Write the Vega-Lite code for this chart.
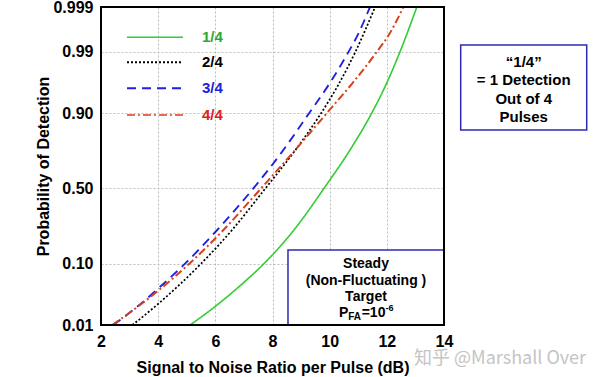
{
  "$schema": "https://vega.github.io/schema/vega-lite/v6.json",
  "width": 343,
  "height": 318,
  "autosize": {"type": "none"},
  "padding": {"left": 101, "top": 7, "right": 156, "bottom": 52},
  "background": "white",
  "config": {
    "view": {"stroke": null},
    "axis": {
      "labelFont": "Liberation Sans",
      "labelFontSize": 16,
      "labelFontWeight": "bold",
      "labelColor": "#000000",
      "titleFont": "Liberation Sans",
      "titleFontSize": 16,
      "titleFontWeight": "bold",
      "titleColor": "#000000",
      "ticks": false,
      "tickSize": 0,
      "domain": false,
      "labelOverlap": false,
      "labelBound": false
    }
  },
  "datasets": {
    "curves": [
      {"series": "1/4", "snr": 5.12, "pd": 0.01},
      {"series": "1/4", "snr": 6.0, "pd": 0.0223},
      {"series": "1/4", "snr": 7.0, "pd": 0.0548},
      {"series": "1/4", "snr": 7.7, "pd": 0.10},
      {"series": "1/4", "snr": 8.8, "pd": 0.249},
      {"series": "1/4", "snr": 9.8, "pd": 0.50},
      {"series": "1/4", "snr": 10.77, "pd": 0.758},
      {"series": "1/4", "snr": 11.47, "pd": 0.90},
      {"series": "1/4", "snr": 12.0, "pd": 0.964},
      {"series": "1/4", "snr": 12.46, "pd": 0.99},
      {"series": "1/4", "snr": 13.05, "pd": 0.999},
      {"series": "2/4", "snr": 3.1, "pd": 0.01},
      {"series": "2/4", "snr": 4.06, "pd": 0.0261},
      {"series": "2/4", "snr": 5.5, "pd": 0.10},
      {"series": "2/4", "snr": 6.6, "pd": 0.242},
      {"series": "2/4", "snr": 7.75, "pd": 0.50},
      {"series": "2/4", "snr": 8.73, "pd": 0.728},
      {"series": "2/4", "snr": 9.7, "pd": 0.90},
      {"series": "2/4", "snr": 10.3, "pd": 0.961},
      {"series": "2/4", "snr": 10.9, "pd": 0.99},
      {"series": "2/4", "snr": 11.59, "pd": 0.999},
      {"series": "3/4", "snr": 2.43, "pd": 0.01},
      {"series": "3/4", "snr": 3.2, "pd": 0.0206},
      {"series": "3/4", "snr": 4.06, "pd": 0.0465},
      {"series": "3/4", "snr": 4.94, "pd": 0.10},
      {"series": "3/4", "snr": 6.0, "pd": 0.229},
      {"series": "3/4", "snr": 7.33, "pd": 0.50},
      {"series": "3/4", "snr": 8.3, "pd": 0.726},
      {"series": "3/4", "snr": 9.28, "pd": 0.90},
      {"series": "3/4", "snr": 10.0, "pd": 0.9633},
      {"series": "3/4", "snr": 10.66, "pd": 0.99},
      {"series": "3/4", "snr": 11.0, "pd": 0.99576},
      {"series": "3/4", "snr": 11.41, "pd": 0.999},
      {"series": "4/4", "snr": 2.4, "pd": 0.01},
      {"series": "4/4", "snr": 3.2, "pd": 0.0204},
      {"series": "4/4", "snr": 4.06, "pd": 0.0428},
      {"series": "4/4", "snr": 5.09, "pd": 0.10},
      {"series": "4/4", "snr": 6.3, "pd": 0.242},
      {"series": "4/4", "snr": 7.6, "pd": 0.50},
      {"series": "4/4", "snr": 8.73, "pd": 0.732},
      {"series": "4/4", "snr": 9.9, "pd": 0.90},
      {"series": "4/4", "snr": 10.8, "pd": 0.9637},
      {"series": "4/4", "snr": 11.65, "pd": 0.99},
      {"series": "4/4", "snr": 12.1, "pd": 0.99586},
      {"series": "4/4", "snr": 12.58, "pd": 0.999}
    ]
  },
  "layer": [
    {
      "data": {"name": "curves"},
      "transform": [{"calculate": "quantileNormal(datum.pd)", "as": "z"}],
      "mark": {"type": "line", "interpolate": "monotone", "clip": true},
      "encoding": {
        "x": {
          "field": "snr", "type": "quantitative",
          "scale": {"domain": [2, 14], "nice": false, "zero": false},
          "axis": {
            "values": [2, 4, 6, 8, 10, 12, 14],
            "title": "Signal to Noise Ratio per Pulse (dB)",
            "grid": true, "gridColor": "#bdbdbd", "gridDash": [2, 2], "gridWidth": 1,
            "labelPadding": 8, "titlePadding": 10, "labelFlush": false
          }
        },
        "y": {
          "field": "z", "type": "quantitative",
          "scale": {"domain": [-2.326348, 3.090232], "nice": false, "zero": false},
          "axis": {
            "values": [-2.326348, -1.281552, 0, 1.281552, 2.326348, 3.090232],
            "labelExpr": "datum.value > 3 ? '0.999' : format(cumulativeNormal(datum.value), '.2f')",
            "title": "Probability of Detection",
            "grid": true,
            "gridColor": {"condition": {"test": "abs(datum.value - 1.281552) < 0.01", "value": "#f2a6a6"}, "value": "#bdbdbd"},
            "gridDash": [2, 2], "gridWidth": 1,
            "labelPadding": 8, "titlePadding": 1
          }
        },
        "color": {
          "field": "series", "type": "nominal",
          "scale": {"domain": ["1/4", "2/4", "3/4", "4/4"], "range": ["#33cc33", "#000000", "#2020e0", "#d8401c"]},
          "legend": null
        },
        "strokeDash": {
          "field": "series", "type": "nominal",
          "scale": {"domain": ["1/4", "2/4", "3/4", "4/4"], "range": [[1, 0], [2, 2], [9, 6], [8, 3, 2, 3]]},
          "legend": null
        },
        "strokeWidth": {
          "field": "series", "type": "nominal",
          "scale": {"domain": ["1/4", "2/4", "3/4", "4/4"], "range": [1.6, 2, 2, 1.6]},
          "legend": null
        }
      }
    },
    {
      "data": {"values": [{}]},
      "mark": {"type": "rect", "fill": "white", "stroke": "#2b2bb0", "strokeWidth": 1.5, "clip": false},
      "encoding": {
        "x": {"datum": 8.542, "type": "quantitative", "scale": {"domain": [2, 14], "nice": false, "zero": false}},
        "x2": {"datum": 14},
        "y": {"datum": -1.049, "type": "quantitative", "scale": {"domain": [-2.326348, 3.090232], "nice": false, "zero": false}},
        "y2": {"datum": -2.326348}
      }
    },
    {
      "data": {"values": [{}]},
      "mark": {"type": "text", "font": "Liberation Sans", "fontSize": 14, "fontWeight": "bold", "align": "center", "baseline": "middle", "lineHeight": 16.7, "color": "#000000", "clip": false},
      "encoding": {
        "x": {"datum": 11.271, "type": "quantitative", "scale": {"domain": [2, 14], "nice": false, "zero": false}},
        "y": {"datum": -1.287, "type": "quantitative", "scale": {"domain": [-2.326348, 3.090232], "nice": false, "zero": false}},
        "text": {"value": ["Steady", "(Non-Fluctuating )", "Target"]}
      }
    },
    {
      "data": {"values": [{}]},
      "mark": {"type": "text", "font": "Liberation Sans", "fontSize": 14, "fontWeight": "bold", "align": "left", "baseline": "middle", "dx": -27, "color": "#000000", "clip": false},
      "encoding": {
        "x": {"datum": 11.271, "type": "quantitative", "scale": {"domain": [2, 14], "nice": false, "zero": false}},
        "y": {"datum": -2.13, "type": "quantitative", "scale": {"domain": [-2.326348, 3.090232], "nice": false, "zero": false}},
        "text": {"value": "P"}
      }
    },
    {
      "data": {"values": [{}]},
      "mark": {"type": "text", "font": "Liberation Sans", "fontSize": 10, "fontWeight": "bold", "align": "left", "baseline": "middle", "dx": -17.7, "dy": 4, "color": "#000000", "clip": false},
      "encoding": {
        "x": {"datum": 11.271, "type": "quantitative", "scale": {"domain": [2, 14], "nice": false, "zero": false}},
        "y": {"datum": -2.13, "type": "quantitative", "scale": {"domain": [-2.326348, 3.090232], "nice": false, "zero": false}},
        "text": {"value": "FA"}
      }
    },
    {
      "data": {"values": [{}]},
      "mark": {"type": "text", "font": "Liberation Sans", "fontSize": 14, "fontWeight": "bold", "align": "left", "baseline": "middle", "dx": -4.3, "color": "#000000", "clip": false},
      "encoding": {
        "x": {"datum": 11.271, "type": "quantitative", "scale": {"domain": [2, 14], "nice": false, "zero": false}},
        "y": {"datum": -2.13, "type": "quantitative", "scale": {"domain": [-2.326348, 3.090232], "nice": false, "zero": false}},
        "text": {"value": "=10"}
      }
    },
    {
      "data": {"values": [{}]},
      "mark": {"type": "text", "font": "Liberation Sans", "fontSize": 9, "fontWeight": "bold", "align": "left", "baseline": "middle", "dx": 19.4, "dy": -5, "color": "#000000", "clip": false},
      "encoding": {
        "x": {"datum": 11.271, "type": "quantitative", "scale": {"domain": [2, 14], "nice": false, "zero": false}},
        "y": {"datum": -2.13, "type": "quantitative", "scale": {"domain": [-2.326348, 3.090232], "nice": false, "zero": false}},
        "text": {"value": "-6"}
      }
    },
    {
      "data": {"values": [{}]},
      "mark": {"type": "rect", "fill": "white", "stroke": "#2b2bb0", "strokeWidth": 1.5, "clip": false},
      "encoding": {
        "x": {"datum": 14.584, "type": "quantitative", "scale": {"domain": [2, 14], "nice": false, "zero": false}},
        "x2": {"datum": 18.993},
        "y": {"datum": 2.443, "type": "quantitative", "scale": {"domain": [-2.326348, 3.090232], "nice": false, "zero": false}},
        "y2": {"datum": 0.995}
      }
    },
    {
      "data": {"values": [{}]},
      "mark": {"type": "text", "font": "Liberation Sans", "fontSize": 15, "fontWeight": "bold", "align": "center", "baseline": "middle", "lineHeight": 18.5, "color": "#000000", "clip": false},
      "encoding": {
        "x": {"datum": 16.789, "type": "quantitative", "scale": {"domain": [2, 14], "nice": false, "zero": false}},
        "y": {"datum": 2.158, "type": "quantitative", "scale": {"domain": [-2.326348, 3.090232], "nice": false, "zero": false}},
        "text": {"value": ["“1/4”", "= 1 Detection", "Out of 4", "Pulses"]}
      }
    },
    {
      "data": {"values": [{}]},
      "mark": {"type": "rule", "color": "#33cc33", "strokeWidth": 1.6},
      "encoding": {
        "x": {"datum": 2.91, "type": "quantitative", "scale": {"domain": [2, 14], "nice": false, "zero": false}},
        "x2": {"datum": 4.869},
        "y": {"datum": 2.574, "type": "quantitative", "scale": {"domain": [-2.326348, 3.090232], "nice": false, "zero": false}}
      }
    },
    {
      "data": {"values": [{}]},
      "mark": {"type": "rule", "color": "#000000", "strokeWidth": 2, "strokeDash": [2, 2]},
      "encoding": {
        "x": {"datum": 2.91, "type": "quantitative", "scale": {"domain": [2, 14], "nice": false, "zero": false}},
        "x2": {"datum": 4.869},
        "y": {"datum": 2.148, "type": "quantitative", "scale": {"domain": [-2.326348, 3.090232], "nice": false, "zero": false}}
      }
    },
    {
      "data": {"values": [{}]},
      "mark": {"type": "rule", "color": "#2020e0", "strokeWidth": 2, "strokeDash": [9, 6]},
      "encoding": {
        "x": {"datum": 2.91, "type": "quantitative", "scale": {"domain": [2, 14], "nice": false, "zero": false}},
        "x2": {"datum": 4.869},
        "y": {"datum": 1.705, "type": "quantitative", "scale": {"domain": [-2.326348, 3.090232], "nice": false, "zero": false}}
      }
    },
    {
      "data": {"values": [{}]},
      "mark": {"type": "rule", "color": "#d8401c", "strokeWidth": 1.6, "strokeDash": [8, 3, 2, 3]},
      "encoding": {
        "x": {"datum": 2.91, "type": "quantitative", "scale": {"domain": [2, 14], "nice": false, "zero": false}},
        "x2": {"datum": 4.869},
        "y": {"datum": 1.2506, "type": "quantitative", "scale": {"domain": [-2.326348, 3.090232], "nice": false, "zero": false}}
      }
    },
    {
      "data": {"values": [{}]},
      "mark": {"type": "text", "font": "Liberation Sans", "fontSize": 15, "fontWeight": "bold", "align": "left", "baseline": "middle", "color": "#2ea82e"},
      "encoding": {
        "x": {"datum": 5.534, "type": "quantitative", "scale": {"domain": [2, 14], "nice": false, "zero": false}},
        "y": {"datum": 2.574, "type": "quantitative", "scale": {"domain": [-2.326348, 3.090232], "nice": false, "zero": false}},
        "text": {"value": "1/4"}
      }
    },
    {
      "data": {"values": [{}]},
      "mark": {"type": "text", "font": "Liberation Sans", "fontSize": 15, "fontWeight": "bold", "align": "left", "baseline": "middle", "color": "#000000"},
      "encoding": {
        "x": {"datum": 5.534, "type": "quantitative", "scale": {"domain": [2, 14], "nice": false, "zero": false}},
        "y": {"datum": 2.148, "type": "quantitative", "scale": {"domain": [-2.326348, 3.090232], "nice": false, "zero": false}},
        "text": {"value": "2/4"}
      }
    },
    {
      "data": {"values": [{}]},
      "mark": {"type": "text", "font": "Liberation Sans", "fontSize": 15, "fontWeight": "bold", "align": "left", "baseline": "middle", "color": "#2020d8"},
      "encoding": {
        "x": {"datum": 5.534, "type": "quantitative", "scale": {"domain": [2, 14], "nice": false, "zero": false}},
        "y": {"datum": 1.705, "type": "quantitative", "scale": {"domain": [-2.326348, 3.090232], "nice": false, "zero": false}},
        "text": {"value": "3/4"}
      }
    },
    {
      "data": {"values": [{}]},
      "mark": {"type": "text", "font": "Liberation Sans", "fontSize": 15, "fontWeight": "bold", "align": "left", "baseline": "middle", "color": "#e02020"},
      "encoding": {
        "x": {"datum": 5.534, "type": "quantitative", "scale": {"domain": [2, 14], "nice": false, "zero": false}},
        "y": {"datum": 1.2506, "type": "quantitative", "scale": {"domain": [-2.326348, 3.090232], "nice": false, "zero": false}},
        "text": {"value": "4/4"}
      }
    },
    {
      "data": {"values": [{}]},
      "mark": {"type": "text", "font": "Noto Sans CJK SC", "fontSize": 18, "align": "left", "baseline": "middle", "color": "#c4c4c4", "clip": false},
      "encoding": {
        "x": {"datum": 12.95, "type": "quantitative", "scale": {"domain": [2, 14], "nice": false, "zero": false}},
        "y": {"datum": -2.9055, "type": "quantitative", "scale": {"domain": [-2.326348, 3.090232], "nice": false, "zero": false}},
        "text": {"value": "知乎 @Marshall Over"}
      }
    },
    {
      "data": {"values": [{}]},
      "mark": {"type": "rect", "fill": "transparent", "stroke": "#000000", "strokeWidth": 2, "clip": false},
      "encoding": {
        "x": {"datum": 2, "type": "quantitative", "scale": {"domain": [2, 14], "nice": false, "zero": false}},
        "x2": {"datum": 14},
        "y": {"datum": -2.326348, "type": "quantitative", "scale": {"domain": [-2.326348, 3.090232], "nice": false, "zero": false}},
        "y2": {"datum": 3.090232}
      }
    }
  ]
}
